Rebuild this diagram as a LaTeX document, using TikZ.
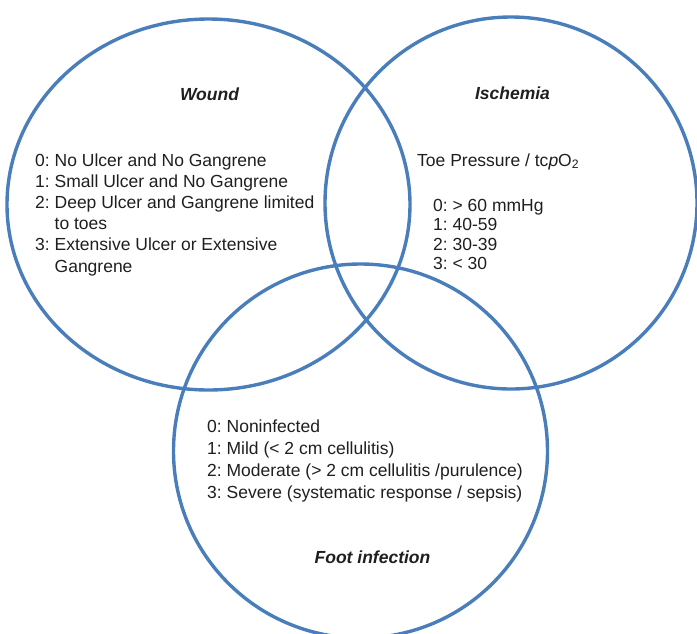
\documentclass[tikz,border=0pt]{standalone}
\usepackage{fontspec}
\setmainfont{Liberation Sans}
\frenchspacing
\definecolor{vennblue}{RGB}{74,126,187}
\tikzset{
  ring/.style={draw=vennblue, line width=3.4pt},
  lbl/.style={inner sep=0pt, text=black!88, font=\fontsize{17.5}{21.5}\selectfont},
  ttl/.style={lbl, anchor=base, font=\fontsize{17.5}{21.5}\selectfont\bfseries\itshape},
  lst/.style={lbl, align=left, anchor=base west},
}
\begin{document}
\begin{tikzpicture}[x=1pt, y=-1pt]
  \useasboundingbox (0,0) rectangle (697,633);

  % Three overlapping circles
  \draw[ring] (208.5,204.5) ellipse [x radius=201.5, y radius=185.5];
  \draw[ring] (511,203) circle [radius=186];
  \draw[ring] (360.5,451) circle [radius=187];

  % Wound (lists are placed at the baseline of their last line)
  \node[ttl] (wound) at (209.5,100) {Wound};
  \node[lst, font=\fontsize{17.5}{21.2}\selectfont] (woundgrades) at (35,272) {0: No Ulcer and No Gangrene\\
    1: Small Ulcer and No Gangrene\\
    2: Deep Ulcer and Gangrene limited\\
    \hphantom{2: }to toes\\
    3: Extensive Ulcer or Extensive\\
    \hphantom{3: }Gangrene};

  % Ischemia
  \node[ttl] (ischemia) at (512.5,99) {Ischemia};
  \node[lst] (toepressure) at (417,166) {Toe Pressure / tc\textit{p}O\textsubscript{2}};
  \node[lst, font=\fontsize{17.5}{19.5}\selectfont] (ischemiagrades) at (433,269.5) {0: > 60 mmHg\\
    1: 40-59\\
    2: 30-39\\
    3: < 30};

  % Foot infection
  \node[ttl] (infection) at (372.5,563) {Foot infection};
  \node[lst, font=\fontsize{17.5}{21.7}\selectfont] (infectiongrades) at (207,498) {0: Noninfected\\
    1: Mild (< 2 cm cellulitis)\\
    2: Moderate (> 2 cm cellulitis /purulence)\\
    3: Severe (systematic response / sepsis)};
\end{tikzpicture}
\end{document}
